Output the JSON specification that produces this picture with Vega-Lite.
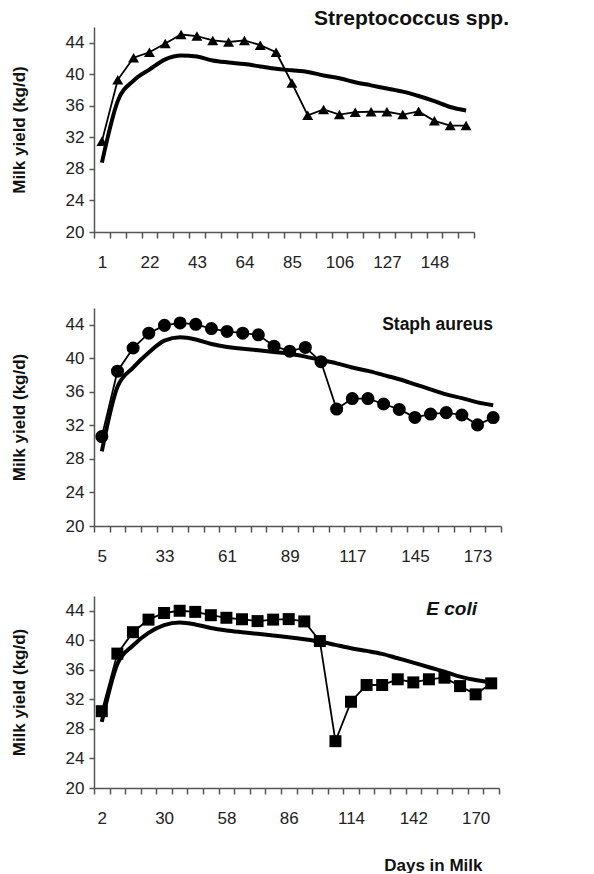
{
  "$schema": "https://vega.github.io/schema/vega-lite/v6.json",
  "background": "white",
  "padding": {"left": 10, "top": 8, "right": 5, "bottom": 0},
  "spacing": 38,
  "config": {
    "view": {"stroke": null},
    "font": "Liberation Sans",
    "axis": {
      "domainColor": "#555",
      "domainWidth": 1.5,
      "tickColor": "#555",
      "tickWidth": 1.5,
      "grid": false,
      "labelFont": "Liberation Sans",
      "labelFontSize": 17,
      "labelColor": "#222",
      "titleFont": "Liberation Sans",
      "titleFontSize": 17,
      "titleFontWeight": "bold",
      "titleColor": "#111"
    },
    "axisY": {"tickSize": 5, "labelPadding": 5, "titlePadding": 37},
    "title": {"font": "Liberation Sans", "fontWeight": "bold", "color": "#111", "anchor": "end", "frame": "group"}
  },
  "datasets": {
    "strep": [
      {"day": 1, "infected": 31.5, "expected": 28.8},
      {"day": 8, "infected": 39.3, "expected": 36.6},
      {"day": 15, "infected": 42.1, "expected": 39.2},
      {"day": 22, "infected": 42.8, "expected": 40.6},
      {"day": 29, "infected": 43.9, "expected": 41.9},
      {"day": 36, "infected": 45.05, "expected": 42.4},
      {"day": 43, "infected": 44.85, "expected": 42.25},
      {"day": 50, "infected": 44.3, "expected": 41.75},
      {"day": 57, "infected": 44.1, "expected": 41.5},
      {"day": 64, "infected": 44.3, "expected": 41.3},
      {"day": 71, "infected": 43.7, "expected": 41.0},
      {"day": 78, "infected": 42.8, "expected": 40.7},
      {"day": 85, "infected": 38.9, "expected": 40.5},
      {"day": 92, "infected": 34.8, "expected": 40.3},
      {"day": 99, "infected": 35.55, "expected": 39.85},
      {"day": 106, "infected": 34.9, "expected": 39.5},
      {"day": 113, "infected": 35.2, "expected": 39.0},
      {"day": 120, "infected": 35.25, "expected": 38.6},
      {"day": 127, "infected": 35.25, "expected": 38.2},
      {"day": 134, "infected": 34.9, "expected": 37.8},
      {"day": 141, "infected": 35.3, "expected": 37.25},
      {"day": 148, "infected": 34.1, "expected": 36.6},
      {"day": 155, "infected": 33.5, "expected": 35.85},
      {"day": 162, "infected": 33.5, "expected": 35.4}
    ],
    "staph": [
      {"day": 5, "infected": 30.67, "expected": 28.9},
      {"day": 12, "infected": 38.46, "expected": 36.6},
      {"day": 19, "infected": 41.23, "expected": 38.9},
      {"day": 26, "infected": 43.0, "expected": 40.7},
      {"day": 33, "infected": 43.93, "expected": 42.1},
      {"day": 40, "infected": 44.22, "expected": 42.5},
      {"day": 47, "infected": 44.05, "expected": 42.25},
      {"day": 54, "infected": 43.55, "expected": 41.7},
      {"day": 61, "infected": 43.2, "expected": 41.35},
      {"day": 68, "infected": 43.0, "expected": 41.15},
      {"day": 75, "infected": 42.8, "expected": 40.95},
      {"day": 82, "infected": 41.45, "expected": 40.75},
      {"day": 89, "infected": 40.85, "expected": 40.55},
      {"day": 96, "infected": 41.3, "expected": 40.2},
      {"day": 103, "infected": 39.6, "expected": 39.8},
      {"day": 110, "infected": 33.95, "expected": 39.4},
      {"day": 117, "infected": 35.2, "expected": 38.9},
      {"day": 124, "infected": 35.2, "expected": 38.5},
      {"day": 131, "infected": 34.55, "expected": 38.0},
      {"day": 138, "infected": 33.9, "expected": 37.5},
      {"day": 145, "infected": 32.95, "expected": 36.9},
      {"day": 152, "infected": 33.35, "expected": 36.3},
      {"day": 159, "infected": 33.52, "expected": 35.7},
      {"day": 166, "infected": 33.24, "expected": 35.25},
      {"day": 173, "infected": 32.06, "expected": 34.75},
      {"day": 180, "infected": 32.93, "expected": 34.4}
    ],
    "ecoli": [
      {"day": 2, "infected": 30.4, "expected": 28.96},
      {"day": 9, "infected": 38.2, "expected": 36.8},
      {"day": 16, "infected": 41.1, "expected": 39.3},
      {"day": 23, "infected": 42.8, "expected": 41.0},
      {"day": 30, "infected": 43.7, "expected": 42.05},
      {"day": 37, "infected": 44.0, "expected": 42.4},
      {"day": 44, "infected": 43.85, "expected": 42.15},
      {"day": 51, "infected": 43.4, "expected": 41.67},
      {"day": 58, "infected": 43.05, "expected": 41.34},
      {"day": 65, "infected": 42.85, "expected": 41.1},
      {"day": 72, "infected": 42.6, "expected": 40.88},
      {"day": 79, "infected": 42.8, "expected": 40.65},
      {"day": 86, "infected": 42.87, "expected": 40.42},
      {"day": 93, "infected": 42.56, "expected": 40.15},
      {"day": 100, "infected": 39.9, "expected": 39.83},
      {"day": 107, "infected": 26.34, "expected": 39.38},
      {"day": 114, "infected": 31.68, "expected": 38.93},
      {"day": 121, "infected": 33.95, "expected": 38.57},
      {"day": 128, "infected": 33.95, "expected": 38.16},
      {"day": 135, "infected": 34.72, "expected": 37.57},
      {"day": 142, "infected": 34.3, "expected": 36.98},
      {"day": 149, "infected": 34.72, "expected": 36.35},
      {"day": 156, "infected": 34.94, "expected": 35.76},
      {"day": 163, "infected": 33.8, "expected": 35.08},
      {"day": 170, "infected": 32.68, "expected": 34.62},
      {"day": 177, "infected": 34.17, "expected": 34.3}
    ]
  },
  "vconcat": [
    {
      "width": 380,
      "height": 205,
      "title": {"text": "Streptococcus spp.", "fontSize": 21, "dx": 35, "offset": -2},
      "data": {"name": "strep"},
      "encoding": {
        "x": {
          "field": "day",
          "type": "quantitative",
          "scale": {"domain": [-2.5, 165.5], "nice": false, "zero": false},
          "axis": {
            "title": null,
            "values": [-2.5, 4.5, 11.5, 18.5, 25.5, 32.5, 39.5, 46.5, 53.5, 60.5, 67.5, 74.5, 81.5, 88.5, 95.5, 102.5, 109.5, 116.5, 123.5, 130.5, 137.5, 144.5, 151.5, 158.5, 165.5, 1, 22, 43, 64, 85, 106, 127, 148],
            "tickSize": 6,
            "labelPadding": 16,
            "labelFlush": false,
            "labelOverlap": false,
            "labelExpr": "datum.value % 1 === 0 ? '' + datum.value : ''",
            "tickOpacity": {"condition": {"test": "datum.value % 1 !== 0", "value": 1}, "value": 0}
          }
        }
      },
      "layer": [
        {
          "mark": {"type": "line", "color": "black", "strokeWidth": 4, "interpolate": "monotone"},
          "encoding": {
            "y": {"field": "expected", "type": "quantitative", "scale": {"domain": [20, 46], "nice": false, "zero": false},
              "axis": {"title": "Milk yield (kg/d)", "values": [20, 24, 28, 32, 36, 40, 44]}}
          }
        },
        {
          "mark": {"type": "line", "color": "black", "strokeWidth": 1.8,
            "point": {"shape": "triangle-up", "size": 120, "filled": true, "color": "black", "opacity": 1}},
          "encoding": {
            "y": {"field": "infected", "type": "quantitative", "scale": {"domain": [20, 46], "nice": false, "zero": false},
              "axis": {"title": "Milk yield (kg/d)", "values": [20, 24, 28, 32, 36, 40, 44]}}
          }
        }
      ]
    },
    {
      "spacing": 32,
      "vconcat": [
        {
          "width": 407,
          "height": 218,
          "title": {"text": "Staph aureus", "fontSize": 17.5, "dx": -8, "offset": -34, "baseline": "middle"},
          "data": {"name": "staph"},
          "encoding": {
            "x": {
              "field": "day",
              "type": "quantitative",
              "scale": {"domain": [1.5, 183.5], "nice": false, "zero": false},
              "axis": {
                "title": null,
                "values": [1.5, 8.5, 15.5, 22.5, 29.5, 36.5, 43.5, 50.5, 57.5, 64.5, 71.5, 78.5, 85.5, 92.5, 99.5, 106.5, 113.5, 120.5, 127.5, 134.5, 141.5, 148.5, 155.5, 162.5, 169.5, 176.5, 183.5, 5, 33, 61, 89, 117, 145, 173],
                "tickSize": 6,
                "labelPadding": 16,
                "labelFlush": false,
                "labelOverlap": false,
                "labelExpr": "datum.value % 1 === 0 ? '' + datum.value : ''",
                "tickOpacity": {"condition": {"test": "datum.value % 1 !== 0", "value": 1}, "value": 0}
              }
            }
          },
          "layer": [
            {
              "mark": {"type": "line", "color": "black", "strokeWidth": 4, "interpolate": "monotone"},
              "encoding": {
                "y": {"field": "expected", "type": "quantitative", "scale": {"domain": [20, 46], "nice": false, "zero": false},
                  "axis": {"title": "Milk yield (kg/d)", "values": [20, 24, 28, 32, 36, 40, 44]}}
              }
            },
            {
              "mark": {"type": "line", "color": "black", "strokeWidth": 1.8,
                "point": {"shape": "circle", "size": 170, "filled": true, "color": "black", "opacity": 1}},
              "encoding": {
                "y": {"field": "infected", "type": "quantitative", "scale": {"domain": [20, 46], "nice": false, "zero": false},
                  "axis": {"title": "Milk yield (kg/d)", "values": [20, 24, 28, 32, 36, 40, 44]}}
              }
            }
          ]
        },
        {
          "width": 405,
          "height": 192,
          "title": {"text": "E coli", "fontSize": 19, "fontStyle": "italic", "dx": -22, "offset": -32, "baseline": "middle"},
          "data": {"name": "ecoli"},
          "encoding": {
            "x": {
              "field": "day",
              "type": "quantitative",
              "scale": {"domain": [-1.5, 180.5], "nice": false, "zero": false},
              "axis": {
                "title": "Days in Milk",
                "titleX": 388,
                "titleY": 77,
                "titleAlign": "right",
                "titleBaseline": "middle",
                "values": [-1.5, 5.5, 12.5, 19.5, 26.5, 33.5, 40.5, 47.5, 54.5, 61.5, 68.5, 75.5, 82.5, 89.5, 96.5, 103.5, 110.5, 117.5, 124.5, 131.5, 138.5, 145.5, 152.5, 159.5, 166.5, 173.5, 180.5, 2, 30, 58, 86, 114, 142, 170],
                "tickSize": 6,
                "labelPadding": 16,
                "labelFlush": false,
                "labelOverlap": false,
                "labelExpr": "datum.value % 1 === 0 ? '' + datum.value : ''",
                "tickOpacity": {"condition": {"test": "datum.value % 1 !== 0", "value": 1}, "value": 0}
              }
            }
          },
          "layer": [
            {
              "mark": {"type": "line", "color": "black", "strokeWidth": 4, "interpolate": "monotone"},
              "encoding": {
                "y": {"field": "expected", "type": "quantitative", "scale": {"domain": [20, 46], "nice": false, "zero": false},
                  "axis": {"title": "Milk yield (kg/d)", "values": [20, 24, 28, 32, 36, 40, 44]}}
              }
            },
            {
              "mark": {"type": "line", "color": "black", "strokeWidth": 1.8,
                "point": {"shape": "square", "size": 144, "filled": true, "color": "black", "opacity": 1}},
              "encoding": {
                "y": {"field": "infected", "type": "quantitative", "scale": {"domain": [20, 46], "nice": false, "zero": false},
                  "axis": {"title": "Milk yield (kg/d)", "values": [20, 24, 28, 32, 36, 40, 44]}}
              }
            }
          ]
        }
      ]
    }
  ]
}
